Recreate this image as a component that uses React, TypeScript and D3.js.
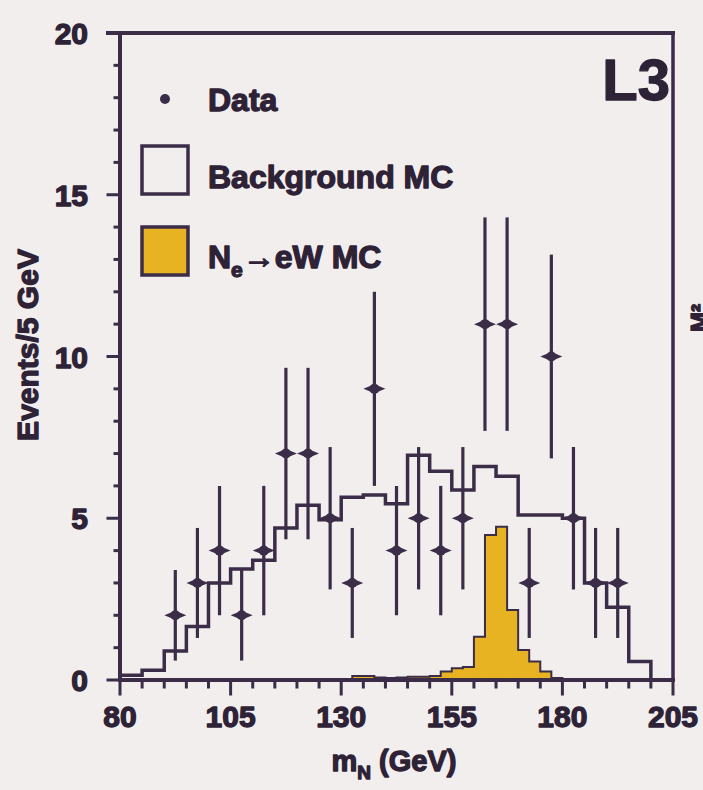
import React, { useEffect, useRef } from "react";
import * as d3 from "d3";

// background MC, 5 GeV bins starting at 80 GeV
const bgEdges = [80, 85, 90, 95, 100, 105, 110, 115, 120, 125, 130, 135, 140, 145, 150, 155, 160, 165, 170, 175, 180, 185, 190, 195, 200];
const bgValues = [0.15, 0.3, 0.9, 1.65, 3.0, 3.43, 3.7, 4.7, 5.4, 4.95, 5.65, 5.72, 5.45, 6.95, 6.45, 5.87, 6.6, 6.3, 5.1, 5.1, 5.0, 3.0, 2.25, 0.57, 0];

// signal MC (N_e -> eW), 2.5 GeV bins
const sigEdges = [132.5, 135, 137.5, 140, 142.5, 145, 147.5, 150, 152.5, 155, 157.5, 160, 162.5, 165, 167.5, 170, 172.5, 175, 177.5];
const sigValues = [0.12, 0.12, 0.08, 0.06, 0.08, 0.1, 0.1, 0.12, 0.26, 0.36, 0.4, 1.34, 4.48, 4.74, 2.16, 0.93, 0.57, 0.26, 0.06];

// data points
const dataMass = [92.5, 97.5, 102.5, 107.5, 112.5, 117.5, 122.5, 127.5, 132.5, 137.5, 142.5, 147.5, 152.5, 157.5, 162.5, 167.5, 172.5, 177.5, 182.5, 187.5, 192.5];
const dataCounts = [2, 3, 4, 2, 4, 7, 7, 5, 3, 9, 4, 5, 4, 5, 11, 11, 3, 10, 5, 3, 3];
const dataErr = [1.4, 1.7, 2.0, 1.4, 2.0, 2.65, 2.65, 2.2, 1.7, 3.0, 2.0, 2.2, 2.0, 2.2, 3.3, 3.3, 1.7, 3.15, 2.2, 1.7, 1.7];

const xTickLabels = [80, 105, 130, 155, 180, 205];
const yTickLabels = [0, 5, 10, 15, 20];

const INK = "#3b2d48";
const TEXT = "#2e2236";
const GOLD = "#e8b322";
const PAPER = "#f2eeee";
const FONT = "'Liberation Sans', Arial, sans-serif";

export default function App() {
  const ref = useRef<SVGSVGElement>(null);

  useEffect(() => {
    const svg = d3.select(ref.current);
    svg.selectAll("*").remove();

    const x = d3.scaleLinear().domain([80, 205]).range([120, 673]);
    const y = d3.scaleLinear().domain([0, 20]).range([680, 33]);

    svg.append("rect").attr("width", 703).attr("height", 790).attr("fill", PAPER);

    const g = svg.append("g");

    // signal histogram (filled)
    const sigPts: [number, number][] = sigEdges.map((e, i) => [e, sigValues[i]]);
    sigPts.push([180, sigValues[sigValues.length - 1]]);
    const area = d3.area<[number, number]>()
      .x(d => x(d[0]))
      .y0(y(0))
      .y1(d => y(d[1]))
      .curve(d3.curveStepAfter);
    g.append("path").datum(sigPts).attr("d", area).attr("fill", GOLD);
    const step = d3.line<[number, number]>()
      .x(d => x(d[0]))
      .y(d => y(d[1]))
      .curve(d3.curveStepAfter);
    g.append("path").datum([[132.5, 0] as [number, number], ...sigPts, [180, 0] as [number, number]])
      .attr("d", step).attr("fill", "none").attr("stroke", INK).attr("stroke-width", 2);

    // background histogram
    const bgPts: [number, number][] = bgEdges.map((e, i) => [e, bgValues[i]]);
    bgPts.push([205, bgValues[bgValues.length - 1]]);
    g.append("path").datum(bgPts).attr("d", step)
      .attr("fill", "none").attr("stroke", INK).attr("stroke-width", 3.5);

    // data points with error bars
    const pts = g.selectAll(".pt").data(dataMass).join("g").attr("class", "pt");
    pts.append("line")
      .attr("x1", d => x(d)).attr("x2", d => x(d))
      .attr("y1", (d, i) => y(dataCounts[i] + dataErr[i]))
      .attr("y2", (d, i) => y(dataCounts[i] - dataErr[i]))
      .attr("stroke", INK).attr("stroke-width", 3.2);
    pts.append("path")
      .attr("d", (d, i) => {
        const cx = x(d), cy = y(dataCounts[i]);
        return `M${cx - 11},${cy} L${cx},${cy - 4.5} L${cx + 11},${cy} L${cx},${cy + 4.5} Z`;
      })
      .attr("fill", INK);
    pts.append("circle")
      .attr("cx", d => x(d)).attr("cy", (d, i) => y(dataCounts[i]))
      .attr("r", 5).attr("fill", INK);

    // axes and frame
    const ax = svg.append("g").attr("stroke", INK).attr("stroke-linecap", "square");
    ax.append("line").attr("x1", 108).attr("x2", x(205)).attr("y1", y(20)).attr("y2", y(20)).attr("stroke-width", 4);
    ax.append("line").attr("x1", x(205)).attr("x2", x(205)).attr("y1", y(20)).attr("y2", y(0)).attr("stroke-width", 3.5);
    ax.append("line").attr("x1", x(80)).attr("x2", x(80)).attr("y1", y(20)).attr("y2", y(0)).attr("stroke-width", 4);
    ax.append("line").attr("x1", x(80)).attr("x2", x(205)).attr("y1", y(0)).attr("y2", y(0)).attr("stroke-width", 4);

    const xMinor = d3.range(80, 206, 5);
    ax.selectAll(".xt").data(xMinor).join("line")
      .attr("x1", d => x(d)).attr("x2", d => x(d))
      .attr("y1", y(0)).attr("y2", d => y(0) + (d % 25 === 5 ? 14 : 7))
      .attr("stroke-width", 3);
    const yMinor = d3.range(0, 21, 1);
    ax.selectAll(".yt").data(yMinor).join("line")
      .attr("y1", d => y(d)).attr("y2", d => y(d))
      .attr("x1", x(80)).attr("x2", d => x(80) - (d % 5 === 0 ? 12 : 5))
      .attr("stroke-width", 3);

    const txt = svg.append("g")
      .attr("font-family", FONT).attr("font-weight", 700).attr("fill", TEXT)
      .attr("stroke", TEXT).attr("stroke-width", 1.3).attr("stroke-linejoin", "round");

    txt.selectAll(".xl").data(xTickLabels).join("text")
      .attr("x", d => x(d)).attr("y", 727)
      .attr("text-anchor", "middle").attr("font-size", 30).text(d => d);
    txt.selectAll(".yl").data(yTickLabels).join("text")
      .attr("x", 88).attr("y", d => y(d) + 11)
      .attr("text-anchor", "end").attr("font-size", 30).text(d => d);

    const xt = txt.append("text").attr("x", 394).attr("y", 771)
      .attr("text-anchor", "middle").attr("font-size", 29);
    xt.append("tspan").text("m");
    xt.append("tspan").attr("font-size", 19).attr("dy", 8).text("N");
    xt.append("tspan").attr("dy", -8).text(" (GeV)");

    txt.append("text")
      .attr("transform", "translate(38,345) rotate(-90)")
      .attr("text-anchor", "middle").attr("font-size", 30)
      .text("Events/5 GeV");

    txt.append("text").attr("x", 670).attr("y", 100)
      .attr("text-anchor", "end").attr("font-size", 58).text("L3");

    // legend
    svg.append("circle").attr("cx", 165).attr("cy", 99).attr("r", 5).attr("fill", INK);
    svg.append("rect").attr("x", 142).attr("y", 146).attr("width", 46).attr("height", 48)
      .attr("fill", "none").attr("stroke", INK).attr("stroke-width", 3.5);
    svg.append("rect").attr("x", 142).attr("y", 227).attr("width", 46).attr("height", 48)
      .attr("fill", GOLD).attr("stroke", INK).attr("stroke-width", 3.5);

    txt.append("text").attr("x", 208).attr("y", 111).attr("font-size", 32).text("Data");
    txt.append("text").attr("x", 208).attr("y", 188).attr("font-size", 32).text("Background MC");
    const sl = txt.append("text").attr("x", 208).attr("y", 268).attr("font-size", 32);
    sl.append("tspan").text("N");
    sl.append("tspan").attr("font-size", 21).attr("dy", 9).text("e");
    sl.append("tspan").attr("dy", -9).text("\u2192eW MC");

    // label of the neighbouring panel, mostly outside the page at the right edge
    txt.append("text")
      .attr("transform", "translate(708,318) rotate(-90)")
      .attr("text-anchor", "middle").attr("font-size", 24).text("M\u00b2");
  }, []);

  return (
    <div style={{ position: "absolute", left: 0, top: 0 }}>
      <svg ref={ref} width={703} height={790} style={{ display: "block" }} />
    </div>
  );
}
